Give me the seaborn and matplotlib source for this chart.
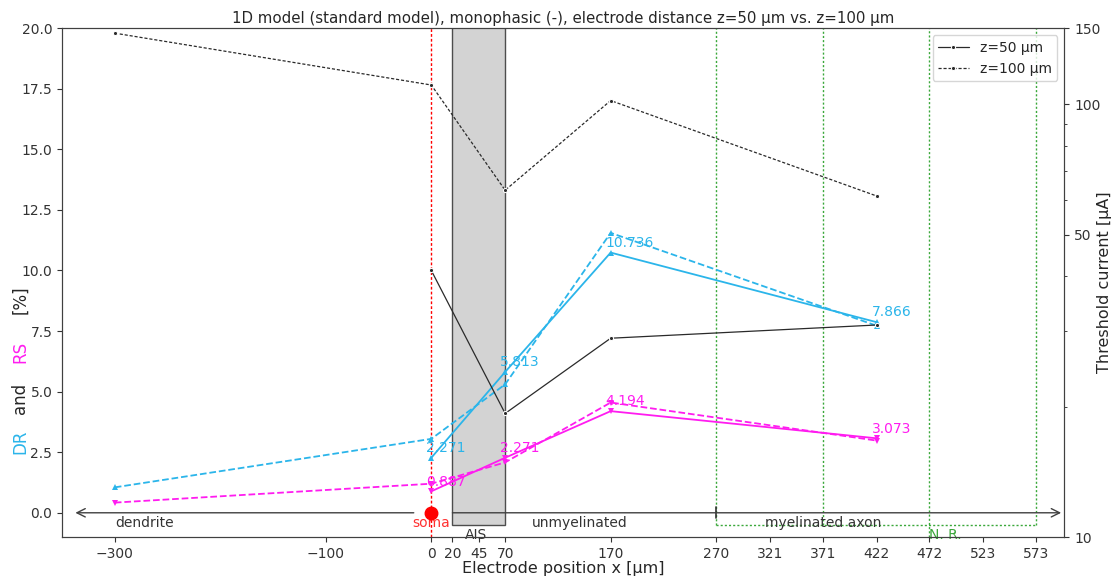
import matplotlib
matplotlib.use("Agg")
import matplotlib.pyplot as plt
from matplotlib.patches import Rectangle
from matplotlib.ticker import NullFormatter, FixedLocator, FixedFormatter
import seaborn as sns

# Electrode positions [µm]
pos_z50 = [0, 70, 170, 422]
pos_z100 = [-300, 0, 70, 170, 422]

# Depolarization ratio (DR) and repolarization share (RS) [%]
dr_z50 = [2.271, 5.813, 10.736, 7.866]
rs_z50 = [0.887, 2.271, 4.194, 3.073]
dr_z100 = [1.05, 3.05, 5.30, 11.55, 7.72]
rs_z100 = [0.42, 1.20, 2.08, 4.55, 2.98]

# Threshold current [µA]
thr_z50 = [41.3, 19.3, 28.8, 30.9]
thr_z100 = [146.0, 110.8, 63.3, 102.0, 61.4]

x_ticks = [-300, -100, 0, 20, 45, 70, 170, 270, 321, 371, 422, 472, 523, 573]
thr_ticks = [10, 50, 100, 150]

CYAN = "#2bb5ea"
MAGENTA = "#ff1cf0"
DARK = "#2a2a2a"
GREEN = "#3aa83a"

sns.set_style("ticks", {"axes.edgecolor": "0.25", "xtick.direction": "out",
                        "ytick.direction": "out"})
plt.rcParams["font.family"] = ["DejaVu Sans"]

fig = plt.figure(figsize=(11.18, 5.79), dpi=100)
ax = fig.add_axes([0.0555, 0.0725, 0.8965, 0.879])
ax2 = ax.twinx()

# DR / RS curves
sns.lineplot(x=pos_z50, y=dr_z50, ax=ax, color=CYAN, marker="^", markersize=5,
             markeredgewidth=0, linewidth=1.3, sort=False, zorder=3)
sns.lineplot(x=pos_z100, y=dr_z100, ax=ax, color=CYAN, marker="^", markersize=5,
             markeredgewidth=0, linewidth=1.3, linestyle="--", sort=False, zorder=3)
sns.lineplot(x=pos_z50, y=rs_z50, ax=ax, color=MAGENTA, marker="v", markersize=5,
             markeredgewidth=0, linewidth=1.3, sort=False, zorder=3)
sns.lineplot(x=pos_z100, y=rs_z100, ax=ax, color=MAGENTA, marker="v", markersize=5,
             markeredgewidth=0, linewidth=1.3, linestyle="--", sort=False, zorder=3)

for xv, yv in zip(pos_z50, dr_z50):
    ax.annotate(f"{yv:.3f}", (xv, yv), xytext=(-3.5, 2), textcoords="offset points",
                color=CYAN, fontsize=10, ha="left", va="bottom", zorder=4)
for xv, yv in zip(pos_z50, rs_z50):
    ax.annotate(f"{yv:.3f}", (xv, yv), xytext=(-3.5, 2), textcoords="offset points",
                color=MAGENTA, fontsize=10, ha="left", va="bottom", zorder=4)

# Anatomical landmarks
ax.axvline(0, color="red", linestyle=(0, (2, 1.5)), linewidth=1.0, zorder=1)
ax.add_patch(Rectangle((20, -0.5), 50, 21, facecolor="#d3d3d3",
                       edgecolor="0.3", linewidth=1.0, zorder=1))
green_kw = dict(color=GREEN, linestyle=(0, (1.5, 1.5)), linewidth=1.0, zorder=1)
for xv in (270, 371, 573):
    ax.plot([xv, xv], [-0.5, 20], **green_kw)
ax.plot([472, 472], [-1, 20], **green_kw)
ax.plot([270, 573], [-0.5, -0.5], **green_kw)

ax.annotate("", xy=(-340, 0), xytext=(-14, 0),
            arrowprops=dict(arrowstyle="->", color="0.25", lw=1.0, mutation_scale=15))
ax.annotate("", xy=(597, 0), xytext=(20, 0),
            arrowprops=dict(arrowstyle="->", color="0.25", lw=1.0, mutation_scale=15,
                            shrinkA=0, shrinkB=0))
ax.plot([270, 270], [-0.22, 0.22], color="0.2", linewidth=1.2, zorder=2)
ax.plot([0], [0], marker="o", color="red", markersize=9, zorder=5, clip_on=False)

ax.text(-300, -0.42, "dendrite", ha="left", va="center", fontsize=10, color="0.2")
ax.text(0, -0.42, "soma", ha="center", va="center", fontsize=10, color="#ff3030")
ax.text(42, -0.92, "AIS", ha="center", va="center", fontsize=10, color="0.2")
ax.text(141, -0.42, "unmyelinated", ha="center", va="center", fontsize=10, color="0.2")
ax.text(371, -0.42, "myelinated axon", ha="center", va="center", fontsize=10, color="0.2")
ax.text(472, -0.92, "N. R.", ha="left", va="center", fontsize=10, color=GREEN)

ax.set_xlim(-350, 600)
ax.set_ylim(-1, 20)
ax.set_xticks(x_ticks)
ax.set_xticklabels([f"{t}".replace("-", "\u2212") for t in x_ticks])
ax.set_yticks([0, 2.5, 5, 7.5, 10, 12.5, 15, 17.5, 20])
ax.set_yticklabels([f"{t:.1f}" for t in [0, 2.5, 5, 7.5, 10, 12.5, 15, 17.5, 20]])
ax.tick_params(labelsize=10, colors="0.2")
ax.set_xlabel("Electrode position x [µm]", fontsize=11.5, labelpad=0, color="0.15")
ax.set_title("1D model (standard model), monophasic (-), electrode distance z=50 µm vs. z=100 µm",
             fontsize=10.8, pad=4, color="0.15")

# Threshold curves on the log-scaled twin axis
sns.lineplot(x=pos_z50, y=thr_z50, ax=ax2, color=DARK, marker=".", markersize=6,
             linewidth=0.9, sort=False, label="z=50 µm")
sns.lineplot(x=pos_z100, y=thr_z100, ax=ax2, color=DARK, marker=".", markersize=6,
             linewidth=0.9, linestyle=(0, (2.5, 1.5)), sort=False, label="z=100 µm")
ax2.set_yscale("log")
ax2.set_ylim(10, 150)
ax2.yaxis.set_major_locator(FixedLocator(thr_ticks))
ax2.yaxis.set_major_formatter(FixedFormatter([str(t) for t in thr_ticks]))
ax2.yaxis.set_minor_formatter(NullFormatter())
ax2.tick_params(labelsize=10, colors="0.2")
ax2.set_ylabel("")
ax2.legend(loc="upper right", fontsize=10, frameon=True, handlelength=2.2)
fig.text(1104 / 1118, 1 - 282 / 579, "Threshold current [µA]", rotation=90,
         ha="center", va="center", fontsize=11.5, color="0.15")

# Two-colour left axis label
for txt, col, ypx in (("DR", CYAN, 442), ("and", "0.15", 398),
                      ("RS", MAGENTA, 352), ("[%]", "0.15", 300)):
    fig.text(20 / 1118, 1 - ypx / 579, txt, rotation=90, ha="center", va="center",
             fontsize=12, color=col)

fig.savefig("out.png", dpi=100)
